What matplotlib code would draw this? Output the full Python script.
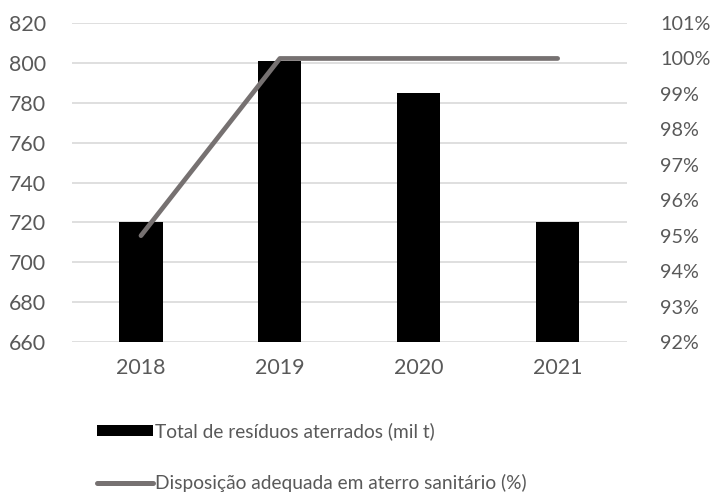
import matplotlib
matplotlib.use("Agg")
import matplotlib.pyplot as plt
from matplotlib.ticker import FuncFormatter, MultipleLocator
from matplotlib.patches import Patch
from matplotlib.lines import Line2D

years = ["2018", "2019", "2020", "2021"]
total_aterrado = [720, 801, 785, 720]          # mil t
disposicao_pct = [95, 100, 100, 100]            # %

label_bar = "Total de resíduos aterrados (mil t)"
label_line = "Disposição adequada em aterro sanitário (%)"

plt.rcParams['font.family'] = ['Lato', 'DejaVu Sans']
text_color = "#595959"
grid_color = "#d9d9d9"
line_color = "#767171"
fs = 15.4
fs_right = 14.2
fs_leg = 13.8

fig = plt.figure(figsize=(7.11, 4.93), dpi=100)
ax = fig.add_axes([0.1006, 0.3063, 0.7814, 0.647])
x = list(range(len(years)))
ax.bar(x, total_aterrado, width=0.31, color="black", zorder=2)
ax.set_ylim(660, 820)
ax.yaxis.set_major_locator(MultipleLocator(20))
ax.set_xlim(-0.5, len(years) - 0.5)
ax.set_xticks(x)
ax.set_xticklabels(years)
ax.grid(axis='y', color=grid_color, linewidth=1.2, zorder=0)
ax.set_axisbelow(True)
for s in ax.spines.values():
    s.set_visible(False)
ax.tick_params(axis='both', length=0, labelsize=fs, colors=text_color)
ax.tick_params(axis='y', pad=18.4)
ax.tick_params(axis='x', pad=11.5)

ax2 = ax.twinx()
ax2.plot(x, disposicao_pct, color=line_color, linewidth=3.4,
         solid_capstyle='round', solid_joinstyle='round', zorder=3)
ax2.set_ylim(92, 101)
ax2.yaxis.set_major_locator(MultipleLocator(1))
ax2.yaxis.set_major_formatter(FuncFormatter(lambda v, p: f"{v:.0f}%"))
for s in ax2.spines.values():
    s.set_visible(False)
ax2.tick_params(axis='y', length=0, labelsize=fs_right, colors=text_color, pad=24)

handles = [Patch(facecolor="black", edgecolor="none"),
           Line2D([0], [0], color=line_color, linewidth=3.6, solid_capstyle='round')]
leg = fig.legend(handles, [label_bar, label_line], loc='upper left',
                 bbox_to_anchor=(97 / 711, 1 - 422 / 493), frameon=False,
                 fontsize=fs_leg, handlelength=2.9, handleheight=0.5,
                 handletextpad=0.12, labelspacing=1.8, borderpad=0,
                 borderaxespad=0)
for t in leg.get_texts():
    t.set_color(text_color)

fig.savefig("out.png", dpi=100, facecolor="white")
